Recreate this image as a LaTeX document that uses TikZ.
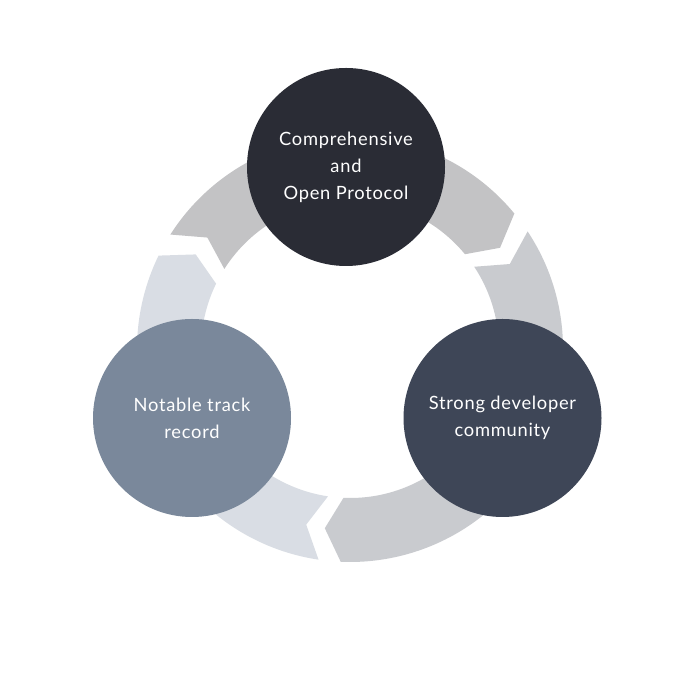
\documentclass[tikz,border=0pt]{standalone}
\usepackage{fontspec}
\setmainfont[LetterSpace=4]{Lato}
\begin{document}
\begin{tikzpicture}[x=1pt,y=1pt,
  bubble/.style={circle,minimum size=198pt,inner sep=0pt,text=white,align=center,
    font=\fontsize{18.3}{27}\selectfont},
]
\useasboundingbox[fill=white] (0,0) rectangle (700,700);
\definecolor{segT}{HTML}{C3C3C5}
\definecolor{segR}{HTML}{C9CBCF}
\definecolor{segL}{HTML}{D9DDE4}
\definecolor{cT}{HTML}{2A2C35}
\definecolor{cR}{HTML}{3E4657}
\definecolor{cL}{HTML}{7A889B}
\begin{scope}[shift={(350,351)}]
  % top segment
  \fill[segT] (147.5:213) arc[start angle=147.5,end angle=39.5,radius=213]
     -- (34:181) -- (39.5:149) arc[start angle=39.5,end angle=147.5,radius=149]
     -- (142:181) -- cycle;
  % right segment
  \fill[segR] (33.5:213) arc[start angle=33.5,end angle=-92.5,radius=213]
     -- (-98:181) -- (-92.5:149) arc[start angle=-92.5,end angle=33.5,radius=149]
     -- (28:181) -- cycle;
  % left segment
  \fill[segL] (261.5:213) arc[start angle=261.5,end angle=154,radius=213]
     -- (148.5:181) -- (154:149) arc[start angle=154,end angle=261.5,radius=149]
     -- (256:181) -- cycle;
\end{scope}
\node[bubble,fill=cT] (top) at (346,533) {Comprehensive\\and\\Open Protocol};
\node[bubble,fill=cR] (right) at (502.5,282) {Strong developer\\community};
\node[bubble,fill=cL] (left) at (192,282) {Notable track\\record};
\end{tikzpicture}
\end{document}
